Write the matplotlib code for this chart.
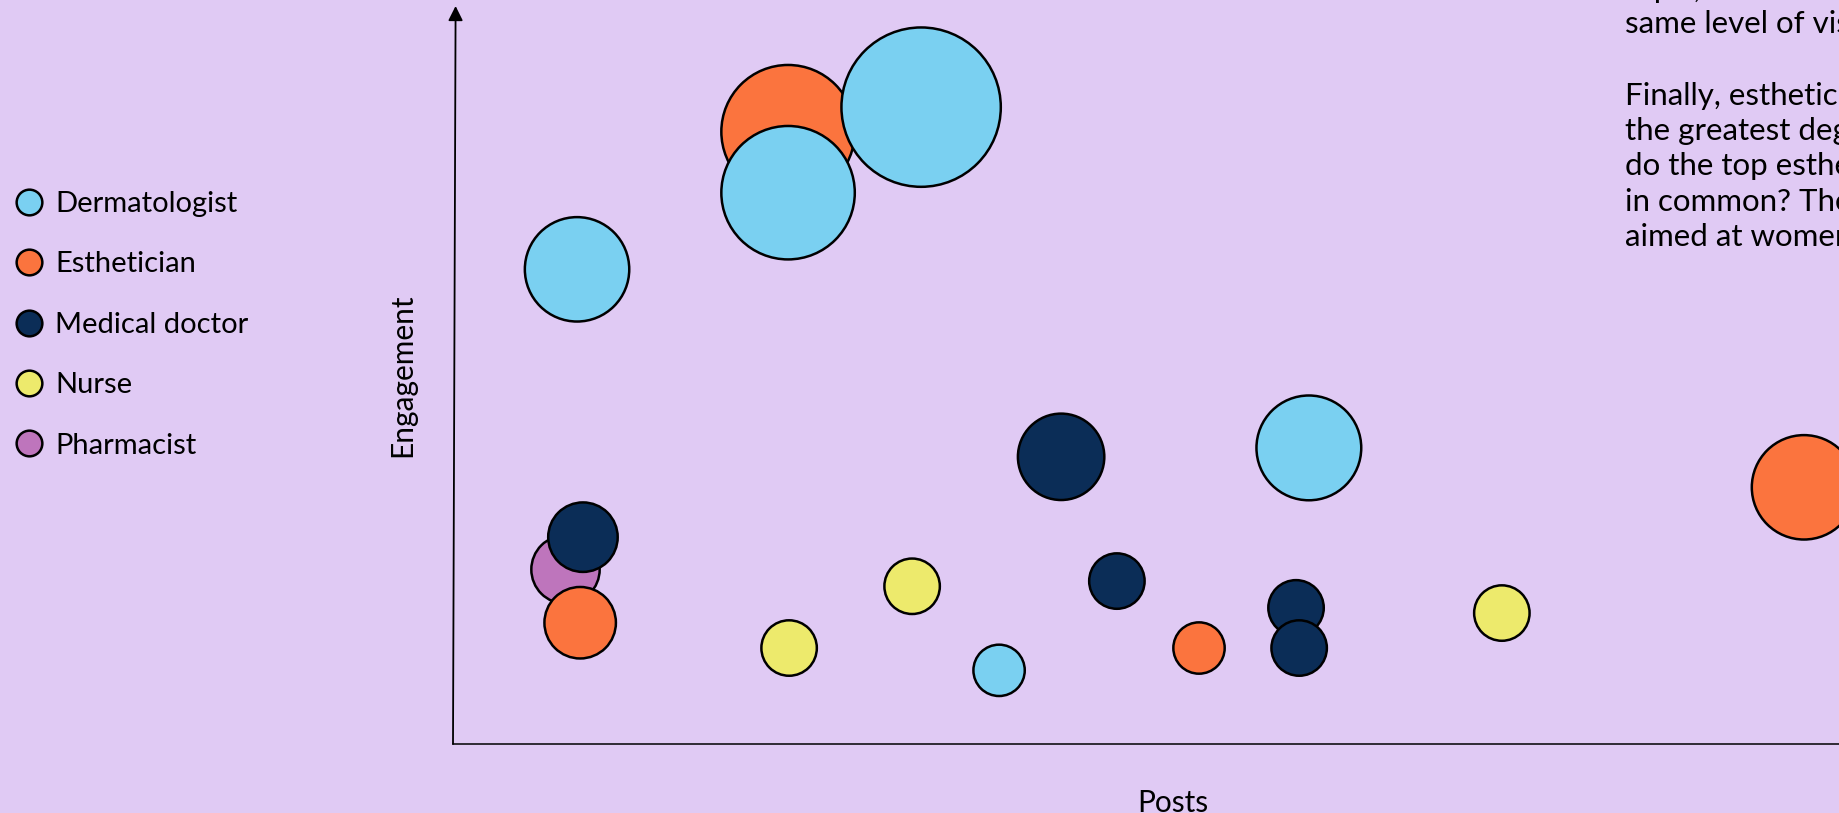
import matplotlib
matplotlib.use("Agg")
import matplotlib.pyplot as plt
from matplotlib.lines import Line2D

plt.rcParams["font.family"] = ["Lato", "DejaVu Sans"]

# -------------------------------
# DATA
# -------------------------------
categories = ["Dermatologist", "Esthetician", "Medical doctor", "Nurse", "Pharmacist"]
colors = ["#7AD0F1", "#FB743E", "#0B2D57", "#EDEA6C", "#BE75BC"]

# posts, engagement (k) and reach (k followers) per creator
derm_posts = [35.8, 96.7, 135.1, 247.0, 157.6]
derm_eng = [63.8, 74.1, 85.6, 39.8, 9.9]
derm_reach = [27.3, 44.6, 63.6, 27.5, 6.6]

esth_posts = [96.7, 389.9, 36.7, 215.3]
esth_eng = [82.3, 34.5, 16.3, 12.9]
esth_reach = [44.6, 27.3, 12.8, 6.6]

med_posts = [175.5, 37.5, 191.6, 243.3, 244.2]
med_eng = [38.6, 27.8, 21.9, 18.3, 12.9]
med_reach = [18.7, 12.1, 7.7, 7.7, 7.7]

nurse_posts = [97.0, 132.5, 302.7]
nurse_eng = [12.9, 21.2, 17.6]
nurse_reach = [7.7, 7.7, 7.7]

pharm_posts = [32.3]
pharm_eng = [23.5]
pharm_reach = [11.7]

note_lines = [
    "topic, but are far from reaching the",
    "same level of visibility.",
    "",
    "Finally, estheticians have",
    "the greatest degree of reach. What",
    "do the top estheticians have",
    "in common? They create content",
    "aimed at women in their thirties.",
]

BG = "#E0CAF4"
SIZE_SCALE = 207.0  # reach -> marker area (pt^2)
FS = 21

# -------------------------------
# FIGURE
# -------------------------------
W, H = 1839, 813
fig = plt.figure(figsize=(W / 100, H / 100), dpi=100, facecolor=BG)
ax = fig.add_axes([453 / W, (H - 744) / H, (W - 453) / W, 744 / H])
ax.set_facecolor(BG)
ax.set_xlim(0, 400)
ax.set_ylim(0, 100)
for s in ax.spines.values():
    s.set_visible(False)
ax.set_xticks([])
ax.set_yticks([])

# draw order: pharmacist at the back, dermatologists on top
series = [
    (pharm_posts, pharm_eng, pharm_reach, colors[4]),
    (esth_posts, esth_eng, esth_reach, colors[1]),
    (med_posts, med_eng, med_reach, colors[2]),
    (nurse_posts, nurse_eng, nurse_reach, colors[3]),
    (derm_posts, derm_eng, derm_reach, colors[0]),
]
for i, (px, py, pr, c) in enumerate(series):
    ax.scatter(px, py, s=[r * SIZE_SCALE for r in pr], c=c,
               edgecolors="black", linewidths=1.8, clip_on=False, zorder=3 + i)

# axis arrows
ax.annotate("", xy=(2.6 / 1386, 1 - 6 / 744), xytext=(0, 0),
            xycoords="axes fraction", textcoords="axes fraction",
            arrowprops=dict(arrowstyle="-|>", color="black", lw=1.3,
                            mutation_scale=22, shrinkA=0, shrinkB=0))
ax.plot([0, 1], [0, 0], transform=ax.transAxes, color="black", lw=1.1,
        clip_on=False, zorder=2)

# axis labels
fig.text(1173 / W, 1 - 812 / H, "Posts", fontsize=21.5, ha="center", va="baseline")
fig.text(402 / W, 1 - 375 / H, "Engagement", fontsize=21.5, rotation=90,
         ha="center", va="center")

# legend
handles = [Line2D([], [], marker="o", linestyle="none", markersize=18.5,
                  markerfacecolor=c, markeredgecolor="black", markeredgewidth=1.8)
           for c in colors]
fig.legend(handles, categories, loc="upper left",
           bbox_to_anchor=(15 / W, 1 - 191 / H), frameon=False, fontsize=FS,
           borderpad=0, borderaxespad=0, labelspacing=1.18, handlelength=0.95,
           handletextpad=0.43)

# side note text
for i, line in enumerate(note_lines):
    fig.text(1625 / W, 1 - (-2 + 35.5 * i) / H, line, fontsize=22.5,
             ha="left", va="baseline")

fig.savefig("out.png", dpi=100, facecolor=BG)
